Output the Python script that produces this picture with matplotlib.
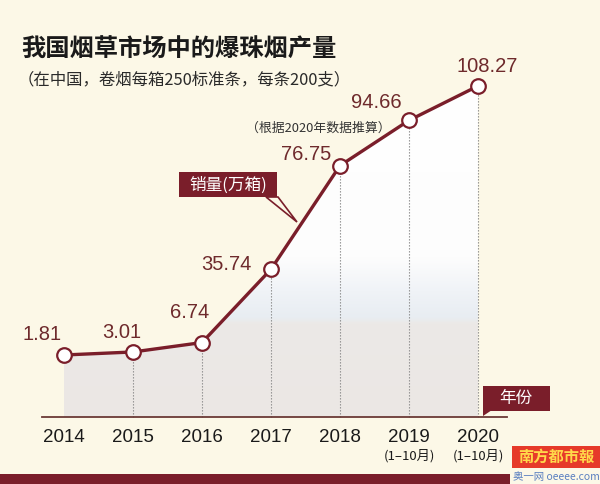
import matplotlib.pyplot as plt
import numpy as np
from matplotlib.colors import LinearSegmentedColormap
from matplotlib.patches import Polygon, Rectangle

plt.rcParams['font.family'] = ['Noto Sans CJK SC', 'DejaVu Sans']

years = ['2014', '2015', '2016', '2017', '2018', '2019', '2020']
sub_labels = ['', '', '', '', '', '(1–10月)', '(1–10月)']
values = [1.81, 3.01, 6.74, 35.74, 76.75, 94.66, 108.27]
label_text = ['1.81', '3.01', '6.74', '35.74', '76.75', '94.66', '108.27']

bg = '#fcf8e7'
red = '#7a1e2a'
txt_red = '#6e2a2c'

W, H = 600, 484
fig = plt.figure(figsize=(6, 4.84), dpi=100, facecolor=bg)
ax = fig.add_axes([0, 0, 1, 1])
ax.set_facecolor(bg)
ax.set_xlim(-64 / 69, (W - 64) / 69)
ax.set_ylim(1.81 - (H - 355) / 2.527, 1.81 + 355 / 2.527)
ax.axis('off')

def fx(px):
    return px / W

def fy(py):
    return 1 - py / H

x = np.arange(len(years))
base = 1.81 - (417 - 355) / 2.527

# gradient fill under the line
poly = Polygon(list(zip(x, values)) + [(x[-1], base), (x[0], base)],
               closed=True, facecolor='none', edgecolor='none')
ax.add_patch(poly)
cmap = LinearSegmentedColormap.from_list('g', [
    (0.0, '#ebe7e4'), (0.28, '#ece9e7'), (0.30, '#e8edf2'),
    (0.38, '#f0f3f7'), (0.48, '#fdfdfd'), (1.0, '#ffffff')])
grad = np.linspace(0, 1, 256).reshape(-1, 1)
im = ax.imshow(grad, extent=(x[0], x[-1], base, max(values)), origin='lower',
               aspect='auto', cmap=cmap, zorder=1)
im.set_clip_path(poly)

# dotted drop lines
for xi, v in zip(x[1:], values[1:]):
    ax.plot([xi, xi], [base, v], ls=(0, (1.2, 1.5)), color='#8a8a8a', lw=0.8, zorder=2)

# baseline
ax.plot([(42 - 64) / 69, (507 - 64) / 69], [base, base], color='#6b3a36', lw=1.3, zorder=3)

# main line
ax.plot(x, values, color=red, lw=2.4, zorder=4)
ax.plot(x, values, 'o', ms=10.5, mfc='white', mec=red, mew=1.6, zorder=5)

# value labels
label_pos = [(42, 335), (122, 333), (190, 313), (226, 265), (306, 155), (376, 102), (487, 67)]
for t, (px, py) in zip(label_text, label_pos):
    fig.text(fx(px), fy(py), t, ha='center', va='center', fontsize=14.5,
             color=txt_red, family=['Liberation Sans', 'DejaVu Sans'])
fig.text(fx(318), fy(128), '（根据2020年数据推算）', ha='center', va='center',
         fontsize=9.3, color='#333333')

# x tick labels
for xi, yr, sl in zip(x, years, sub_labels):
    px = 64 + 69 * xi
    fig.text(fx(px), fy(438), yr, ha='center', va='center', fontsize=13.5,
             color='#1a1a1a', family=['Liberation Sans', 'DejaVu Sans'])
    if sl:
        fig.text(fx(px), fy(456), sl, ha='center', va='center', fontsize=9.5,
                 color='#1a1a1a')

# title and subtitle
fig.text(fx(21), fy(50), '我国烟草市场中的爆珠烟产量', ha='left', va='center',
         fontsize=17.5, fontweight='bold', color='#1a1a1a')
fig.text(fx(18), fy(80), '（在中国，卷烟每箱250标准条，每条200支）', ha='left',
         va='center', fontsize=11.8, color='#2a2a2a')

# unit box
fig.patches.append(Rectangle((fx(179), fy(197)), fx(98), 25 / H, transform=fig.transFigure,
                             facecolor=red, edgecolor='none'))
fig.patches.append(Polygon([(fx(266), fy(197)), (fx(278), fy(197)), (fx(297), fy(222))],
                           closed=True, transform=fig.transFigure,
                           facecolor=bg, edgecolor=red, lw=1.2))
fig.text(fx(228), fy(185), '销量(万箱)', ha='center', va='center', fontsize=12,
         color='white')

# year box
fig.patches.append(Rectangle((fx(483), fy(411)), fx(67), 25 / H, transform=fig.transFigure,
                             facecolor=red, edgecolor='none'))
fig.patches.append(Polygon([(fx(483), fy(410)), (fx(492), fy(410)), (fx(483), fy(416))],
                           closed=True, transform=fig.transFigure,
                           facecolor=red, edgecolor='none'))
fig.text(fx(516), fy(398), '年份', ha='center', va='center', fontsize=12,
         color='white')

# bottom band and logo
fig.patches.append(Rectangle((0, 0), fx(510), 10 / H, transform=fig.transFigure,
                             facecolor=red, edgecolor='none'))
fig.patches.append(Rectangle((fx(512), fy(468)), fx(88), 22 / H, transform=fig.transFigure,
                             facecolor='#e63a2a', edgecolor='none'))
fig.text(fx(556), fy(457), '南方都市報', ha='center', va='center', fontsize=11,
         color='#ffd84a', fontweight='bold')
fig.text(fx(556), fy(477), '奥一网 oeeee.com', ha='center', va='center', fontsize=7.5,
         color='#5a7fc0', style='italic')

fig.savefig('out.png', dpi=100, facecolor=bg)
